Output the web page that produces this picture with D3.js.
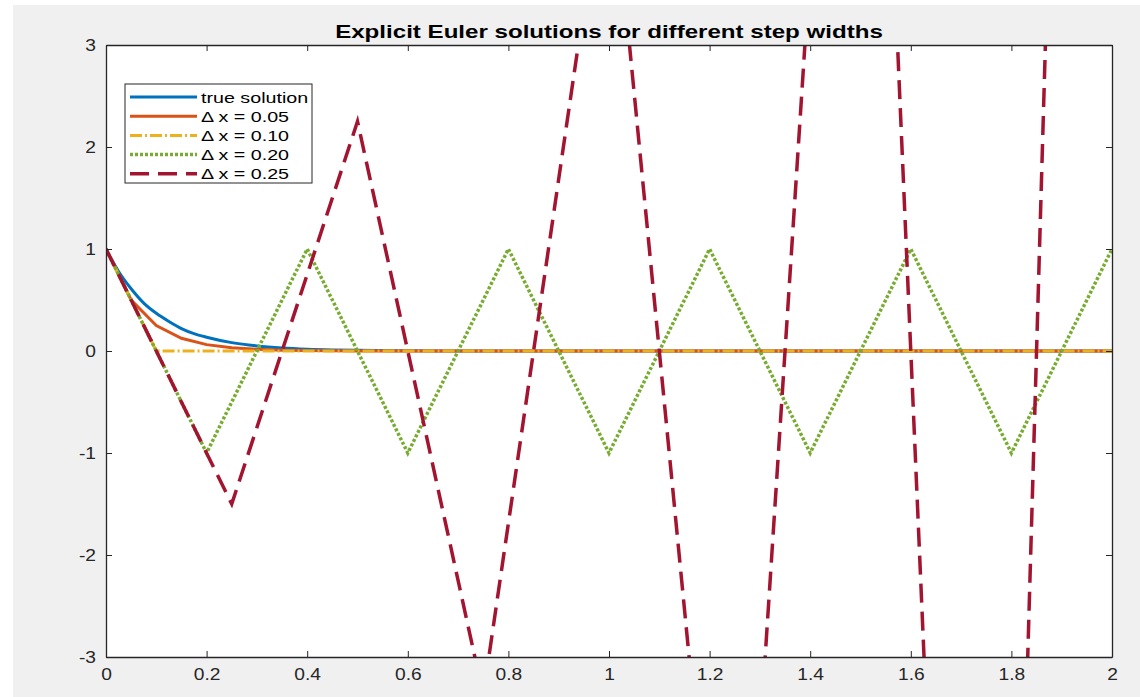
<!DOCTYPE html>
<html>
<head>
<meta charset="utf-8">
<script src="https://cdn.jsdelivr.net/npm/d3@7"></script>
<style>
	body { margin: 0; background: #fff; }
	svg { display: block; font-family: 'Liberation Sans', Arial, sans-serif; }
</style>
</head>
<body>
<div id="chart"></div>
<script>
// values
const xTicks = [0, 0.2, 0.4, 0.6, 0.8, 1, 1.2, 1.4, 1.6, 1.8, 2];
const yTicks = [-3, -2, -1, 0, 1, 2, 3];

const trueX = [0, 0.025, 0.05, 0.075, 0.1, 0.125, 0.15, 0.175, 0.2, 0.25, 0.3, 0.35, 0.4, 0.45, 0.5, 0.6, 0.8, 1, 2];
const trueY = [1, 0.78, 0.61, 0.47, 0.37, 0.29, 0.22, 0.17, 0.135, 0.082, 0.05, 0.03, 0.018, 0.011, 0.007, 0.0025, 0.0003, 0, 0];

const x05 = [0, 0.05, 0.1, 0.15, 0.2, 0.25, 0.3, 0.35, 0.4, 0.45, 0.5, 0.55, 0.6, 2];
const y05 = [1, 0.5, 0.25, 0.125, 0.0625, 0.031, 0.016, 0.008, 0.004, 0.002, 0.001, 0.0005, 0, 0];

const x10 = [0, 0.1, 0.2, 0.3, 0.4, 0.5, 0.6, 0.7, 0.8, 0.9, 1, 1.1, 1.2, 1.3, 1.4, 1.5, 1.6, 1.7, 1.8, 1.9, 2];
const y10 = [1, 0, 0, 0, 0, 0, 0, 0, 0, 0, 0, 0, 0, 0, 0, 0, 0, 0, 0, 0, 0];

const x20 = [0, 0.2, 0.4, 0.6, 0.8, 1, 1.2, 1.4, 1.6, 1.8, 2];
const y20 = [1, -1, 1, -1, 1, -1, 1, -1, 1, -1, 1];

const x25 = [0, 0.25, 0.5, 0.75, 1, 1.25, 1.5, 1.75, 2];
const y25 = [1, -1.5, 2.25, -3.375, 5.06, -7.59, 11.39, -17.09, 25.63];

const labels = ['true solution', '\u0394 x = 0.05', '\u0394 x = 0.10', '\u0394 x = 0.20', '\u0394 x = 0.25'];

const W = 1140, H = 697;
const margin = { top: 45, right: 28, bottom: 40, left: 106 };
// the picture's text is wider than it is tall
const tickStretch = 1.2;
const titleStretch = 1.34;
const legendStretch = 1.27;

const svg = d3.select('#chart').append('svg')
	.attr('width', W)
	.attr('height', H);

svg.append('rect')
	.attr('x', 13).attr('y', 5)
	.attr('width', W - 13).attr('height', H - 5)
	.attr('fill', '#f0f0f0');

const x = d3.scaleLinear().domain([0, 2]).range([margin.left, W - margin.right]);
const y = d3.scaleLinear().domain([-3, 3]).range([H - margin.bottom, margin.top]);

svg.append('rect')
	.attr('x', x(0)).attr('y', y(3))
	.attr('width', x(2) - x(0)).attr('height', y(-3) - y(3))
	.attr('fill', '#fff');

svg.append('clipPath').attr('id', 'clip')
	.append('rect')
	.attr('x', x(0)).attr('y', y(3))
	.attr('width', x(2) - x(0)).attr('height', y(-3) - y(3));

const series = [
	{ xs: trueX, ys: trueY, color: '#0072BD', width: 3, dash: null, curve: d3.curveMonotoneX },
	{ xs: x05, ys: y05, color: '#D95319', width: 3, dash: null, curve: d3.curveLinear },
	{ xs: x10, ys: y10, color: '#EDB120', width: 3, dash: '12,3,2,3', curve: d3.curveLinear },
	{ xs: x20, ys: y20, color: '#77AC30', width: 3.5, dash: '3,2', curve: d3.curveLinear },
	{ xs: x25, ys: y25, color: '#A2142F', width: 3.5, dash: '19,9', curve: d3.curveLinear },
];

const plot = svg.append('g').attr('clip-path', 'url(#clip)');
series.forEach(s => {
	const line = d3.line()
		.x(d => x(d[0]))
		.y(d => y(d[1]))
		.curve(s.curve);
	plot.append('path')
		.datum(s.xs.map((v, i) => [v, s.ys[i]]))
		.attr('d', line)
		.attr('fill', 'none')
		.attr('stroke', s.color)
		.attr('stroke-width', s.width)
		.attr('stroke-dasharray', s.dash);
});

// axes, ticks inside, box on
const axisColor = '#262626';
const tickLen = 6;
const fmt = d => String(d);
const axes = svg.append('g');

const bottom = axes.append('g')
	.attr('transform', `translate(0,${y(-3)})`)
	.call(d3.axisBottom(x).tickValues(xTicks).tickFormat(fmt).tickSizeInner(-tickLen).tickSizeOuter(0).tickPadding(12));
axes.append('g')
	.attr('transform', `translate(0,${y(3)})`)
	.call(d3.axisTop(x).tickValues(xTicks).tickFormat('').tickSizeInner(-tickLen).tickSizeOuter(0));
const left = axes.append('g')
	.attr('transform', `translate(${x(0)},0)`)
	.call(d3.axisLeft(y).tickValues(yTicks).tickFormat(fmt).tickSizeInner(-tickLen).tickSizeOuter(0).tickPadding(10));
axes.append('g')
	.attr('transform', `translate(${x(2)},0)`)
	.call(d3.axisRight(y).tickValues(yTicks).tickFormat('').tickSizeInner(-tickLen).tickSizeOuter(0));

axes.selectAll('.domain').attr('stroke', axisColor).attr('stroke-width', 1.3);
axes.selectAll('.tick line').attr('stroke', axisColor).attr('stroke-width', 1);
axes.selectAll('.tick text')
	.attr('fill', axisColor)
	.style('font-size', '16px')
	.style('font-family', "'Liberation Sans', Arial, sans-serif");

// widen tick labels horizontally around their anchor
bottom.selectAll('.tick text')
	.attr('transform', function() {
		return `translate(0,${+this.getAttribute('y')}) scale(${tickStretch},1)`;
	})
	.attr('y', 0)
	.attr('dy', '0.71em');
left.selectAll('.tick text')
	.attr('transform', function() {
		return `translate(${+this.getAttribute('x')},0) scale(${tickStretch},1)`;
	})
	.attr('x', 0);

svg.append('text')
	.attr('transform', `translate(${(x(0) + x(2)) / 2},38) scale(${titleStretch},1)`)
	.attr('text-anchor', 'middle')
	.style('font-size', '18px')
	.style('font-weight', 'bold')
	.attr('fill', '#000')
	.text('Explicit Euler solutions for different step widths');

// legend
const lg = svg.append('g').attr('transform', 'translate(125,84)');
lg.append('rect')
	.attr('width', 187).attr('height', 99)
	.attr('fill', '#fff')
	.attr('stroke', axisColor).attr('stroke-width', 1);

series.forEach((s, i) => {
	const yy = 13 + i * 19.2;
	lg.append('line')
		.attr('x1', 5).attr('x2', 72)
		.attr('y1', yy).attr('y2', yy)
		.attr('stroke', s.color)
		.attr('stroke-width', s.width)
		.attr('stroke-dasharray', s.dash);
	lg.append('text')
		.attr('transform', `translate(76,${yy + 5.5}) scale(${legendStretch},1)`)
		.style('font-size', '15.5px')
		.attr('fill', '#000')
		.text(labels[i]);
});
</script>
</body>
</html>
